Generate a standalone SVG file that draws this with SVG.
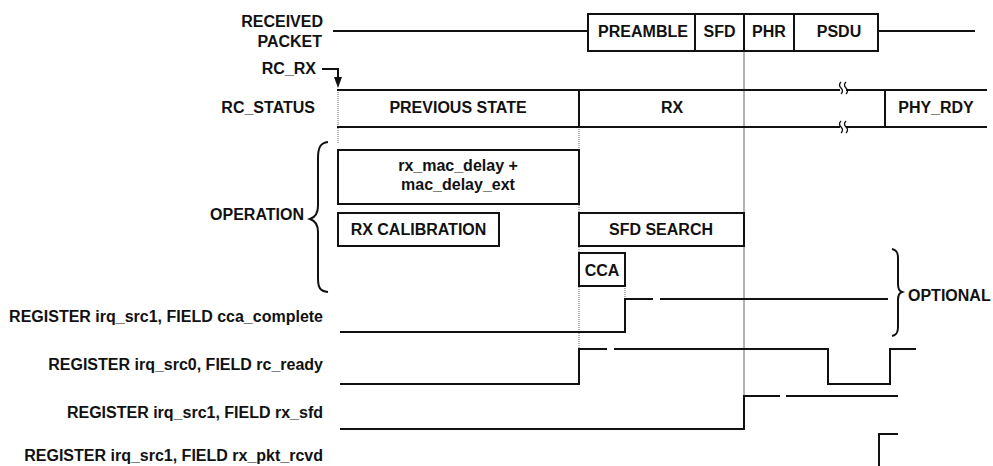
<svg xmlns="http://www.w3.org/2000/svg" width="993" height="466" viewBox="0 0 993 466">
<style>
text{font-family:"Liberation Sans",Arial,sans-serif;font-weight:bold;font-size:16px;fill:#111}
.r{text-anchor:end}.m{text-anchor:middle}
.ln{stroke:#111;stroke-width:2;fill:none}
.box{stroke:#111;stroke-width:2;fill:#fff}
.thin{stroke:#666;stroke-width:1;fill:none}
.dot{stroke:#666;stroke-width:1;stroke-dasharray:1 1;fill:none}
.sig{stroke:#111;stroke-width:2;fill:none}
</style>
<rect width="993" height="466" fill="#fff"/>

<g id="labels">
<text class="r" x="323" y="27">RECEIVED</text>
<text class="r" x="322" y="46.5">PACKET</text>
<text class="r" x="316" y="74">RC_RX</text>
<text class="r" x="315" y="113">RC_STATUS</text>
<text class="r" x="304" y="220">OPERATION</text>
<text class="r" x="323" y="322">REGISTER irq_src1, FIELD cca_complete</text>
<text class="r" x="323" y="370">REGISTER irq_src0, FIELD rc_ready</text>
<text class="r" x="323" y="418">REGISTER irq_src1, FIELD rx_sfd</text>
<text class="r" x="323" y="461">REGISTER irq_src1, FIELD rx_pkt_rcvd</text>
<text x="908" y="300.5">OPTIONAL</text>
</g>

<g id="connectors">
<line class="thin" x1="744" y1="51" x2="744" y2="396"/>
<line class="dot" x1="338" y1="90" x2="338" y2="143"/>
<line class="dot" x1="579" y1="127" x2="579" y2="349"/>
<line class="dot" x1="625" y1="286" x2="625" y2="299"/>
<path class="ln" d="M322,69 H338 V78"/>
<polygon points="334,77 342,77 338,88" fill="#111"/>
<path class="ln" d="M328,142 C320,143 318,148 318,158 L318,206 C318,213 316,217 310,219 C316,221 318,225 318,232 L318,278 C318,288 320,291 328,292"/>
<path class="ln" d="M892,249 C897,250 898,253 898,258 L898,284 C898,289 899,291 902,292 C899,293 898,295 898,300 L898,327 C898,332 897,335 892,336"/>
</g>

<g id="received-packet">
<line class="ln" x1="333" y1="31" x2="588" y2="31"/>
<line class="ln" x1="878" y1="31" x2="975" y2="31"/>
<rect class="box" x="588" y="14" width="290" height="37" fill="none"/>
<line class="ln" x1="695" y1="14" x2="695" y2="51"/>
<line class="ln" x1="744" y1="14" x2="744" y2="51"/>
<line class="ln" x1="794" y1="14" x2="794" y2="51"/>
<text class="m" x="643" y="37">PREAMBLE</text>
<text class="m" x="719.5" y="37">SFD</text>
<text class="m" x="769" y="37">PHR</text>
<text class="m" x="839" y="37">PSDU</text>
</g>

<g id="rc-status">
<line class="ln" x1="337" y1="90" x2="987" y2="90"/>
<line class="ln" x1="337" y1="127" x2="987" y2="127"/>
<line class="ln" x1="579" y1="90" x2="579" y2="127"/>
<line class="ln" x1="885" y1="90" x2="885" y2="127"/>
<rect x="840" y="84" width="6" height="12" fill="#fff"/>
<rect x="840" y="121" width="6" height="12" fill="#fff"/>
<path d="M841,82 q-3,3 0,6 t0,6 M846,82 q-3,3 0,6 t0,6 M841,121 q-3,3 0,6 t0,6 M846,121 q-3,3 0,6 t0,6" stroke="#111" stroke-width="1.3" fill="none"/>
<text class="m" x="458" y="113">PREVIOUS STATE</text>
<text class="m" x="672" y="113">RX</text>
<text class="m" x="936" y="113">PHY_RDY</text>
</g>

<g id="rx-mac-delay">
<rect class="box" x="338" y="150" width="241" height="54"/>
<text class="m" x="458" y="171">rx_mac_delay +</text>
<text class="m" x="458" y="190">mac_delay_ext</text>
</g>
<g id="rx-calibration">
<rect class="box" x="338" y="213" width="161" height="33"/>
<text class="m" x="418.5" y="235">RX CALIBRATION</text>
</g>
<g id="sfd-search">
<rect class="box" x="579" y="213" width="165" height="33"/>
<text class="m" x="661" y="235">SFD SEARCH</text>
</g>
<g id="cca">
<rect class="box" x="579" y="253" width="46" height="33"/>
<text class="m" x="602" y="276">CCA</text>
</g>

<g id="sig-cca-complete">
<path class="sig" d="M340,332 H625 V299 H653 M660,299 H888"/>
</g>
<g id="sig-rc-ready">
<path class="sig" d="M340,384 H579 V349 H607 M614,349 H828 V384 H890 V349 H916"/>
</g>
<g id="sig-rx-sfd">
<path class="sig" d="M340,429 H744 V396 H780 M786,396 H898"/>
</g>
<g id="sig-rx-pkt-rcvd">
<path class="sig" d="M879,466 V434 H898"/>
</g>
</svg>
